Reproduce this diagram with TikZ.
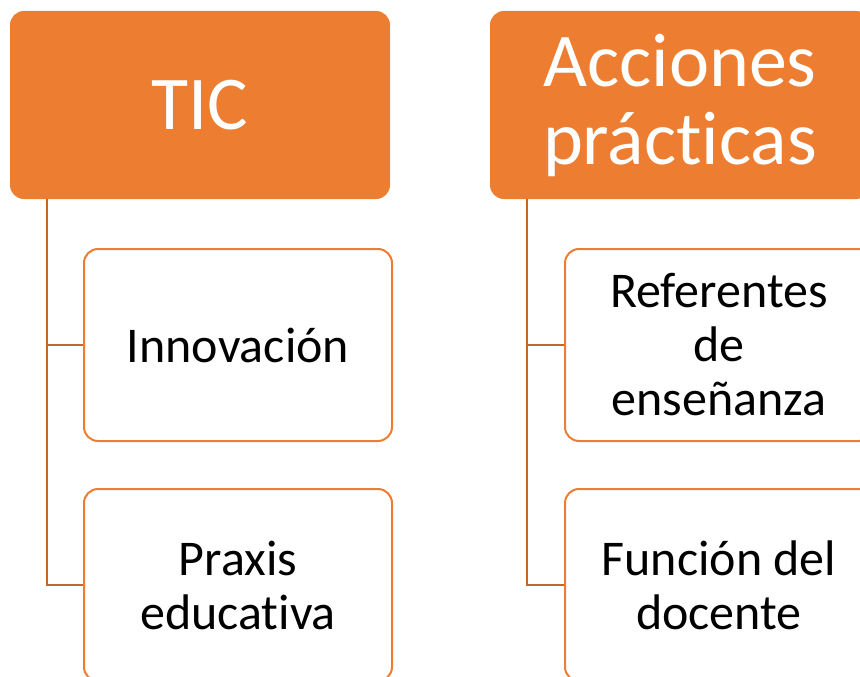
\documentclass[tikz,border=0pt]{standalone}
\usepackage{fontspec}
\setmainfont{Carlito}[Ligatures=NoCommon]
\definecolor{naranja}{HTML}{ED7D31}
\definecolor{linea}{HTML}{C0692F}

\begin{document}
\begin{tikzpicture}[x=1pt,y=-1pt]
    \tikzstyle{titulo}=[rectangle,rounded corners=14pt,fill=naranja,text=white,align=center,inner sep=0pt,font=\fontsize{76}{78}\selectfont]
    \tikzstyle{hoja}=[rectangle,rounded corners=14pt,draw=naranja,line width=2pt,fill=white,align=center,inner sep=0pt,font=\fontsize{50}{54}\selectfont]
    \tikzstyle{rama}=[draw=linea,line width=2pt]
    \useasboundingbox (0,0) rectangle (860,677);
    \clip (0,0) rectangle (860,677);

    \node[titulo,minimum width=380pt,minimum height=188pt] (tic) at (200,105) {TIC};
    \node[titulo,minimum width=380pt,minimum height=188pt] (acc) at (680,105) {Acciones\\prácticas};

    \node[hoja,minimum width=308pt,minimum height=192pt] (innov) at (238,345) {Innovación};
    \node[hoja,minimum width=308pt,minimum height=192pt] (praxis) at (238,585) {Praxis\\educativa};
    \node[hoja,minimum width=308pt,minimum height=192pt] (refer) at (719,345) {Referentes\\de\\enseñanza};
    \node[hoja,minimum width=308pt,minimum height=192pt] (func) at (719,585) {Función del\\docente};

    \foreach \padre/\hijo in {tic/innov,tic/praxis,acc/refer,acc/func}
        \draw[rama] ([xshift=37pt]\padre.south west) |- (\hijo.west);
\end{tikzpicture}
\end{document}
